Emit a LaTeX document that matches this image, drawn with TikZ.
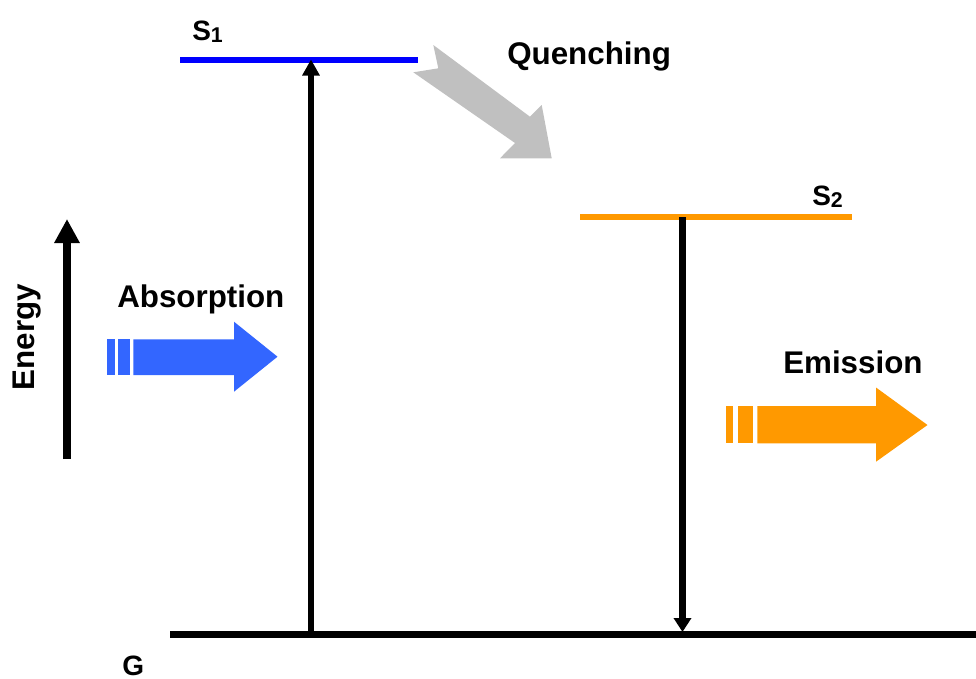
\documentclass[tikz,border=0pt]{standalone}
\usepackage{fontspec}
\setmainfont{Liberation Sans}
\usetikzlibrary{arrows.meta}
\definecolor{levelblue}{HTML}{0000FF}
\definecolor{lightblue}{HTML}{3366FF}
\definecolor{amber}{HTML}{FF9900}
\definecolor{quenchgray}{HTML}{C0C0C0}
\tikzset{
  label text/.style={anchor=base west, inner sep=0pt, font=\bfseries\fontsize{23.5}{26}\selectfont},
  state text/.style={anchor=base west, inner sep=0pt, font=\bfseries\fontsize{21}{23}\selectfont},
  transition/.style={line width=4.6pt, draw=black},
}
\newcommand{\statesub}[1]{\raisebox{-1.7pt}{\fontsize{16}{17}\selectfont #1}}
\begin{document}
\begin{tikzpicture}[x=0.75pt, y=-0.75pt]
  \useasboundingbox (0,0) rectangle (976,679);

  % energy levels
  \coordinate (s1L) at (180,60);   \coordinate (s1R) at (418,60);
  \coordinate (s2L) at (580,216.5); \coordinate (s2R) at (852,216.5);
  \coordinate (gL)  at (170,634.5); \coordinate (gR)  at (976,634.5);
  \draw[levelblue, line width=4.5pt] (s1L) -- (s1R);
  \draw[amber, line width=4.5pt] (s2L) -- (s2R);
  \draw[black, line width=5.8pt] (gL) -- (gR);

  % transitions
  \coordinate (absBot) at (311,632);  \coordinate (absTop) at (311,59.5);
  \coordinate (emTop)  at (682.5,217); \coordinate (emBot) at (682.5,632);
  \draw[transition, -{Triangle[width=12.5pt,length=12pt]}] (absBot) -- (absTop);
  \draw[transition, -{Triangle[width=12.75pt,length=10.5pt]}] (emTop) -- (emBot);

  % energy axis
  \coordinate (eBot) at (67,459); \coordinate (eTop) at (67,219);
  \draw[line width=5.5pt, -{Triangle[width=18pt,length=18pt]}] (eBot) -- (eTop);
  \node[rotate=90, inner sep=0pt, font=\bfseries\fontsize{23.5}{26}\selectfont] (energy) at (27,337) {Energy};

  % labels
  \node[state text] (s1lab) at (192,40.7) {S\statesub{1}};
  \node[state text] (s2lab) at (812,205) {S\statesub{2}};
  \node[state text] (glab)  at (122,675.5) {G};
  \node[label text] (abslab) at (117,307) {Absorption};
  \node[label text] (quenchlab) at (507,64) {Quenching};
  \node[label text] (emlab) at (783,373) {Emission};

  % incoming light
  \fill[lightblue] (107.3,339.3) rectangle (115,375);
  \fill[lightblue] (118.3,339.3) rectangle (130,375);
  \fill[lightblue] (133.3,339.3) -- (234,339.3) -- (234,321.7) -- (277.5,356.7)
        -- (234,391.7) -- (234,375) -- (133.3,375) -- cycle;

  % emitted light
  \fill[amber] (726,406) rectangle (733.3,443.3);
  \fill[amber] (738.3,406) rectangle (752.7,443.3);
  \fill[amber] (757.3,406) -- (876,406) -- (876,387.5) -- (927.5,425)
        -- (876,461.7) -- (876,443.3) -- (757.3,443.3) -- cycle;

  % non-radiative transfer S1 -> S2
  \fill[quenchgray] (433.3,45) -- (530,116.7) -- (541.7,105) -- (551.7,158.3)
        -- (500,158.3) -- (515,143) -- (413.3,72.3) -- (438.3,68.3) -- cycle;
\end{tikzpicture}
\end{document}
